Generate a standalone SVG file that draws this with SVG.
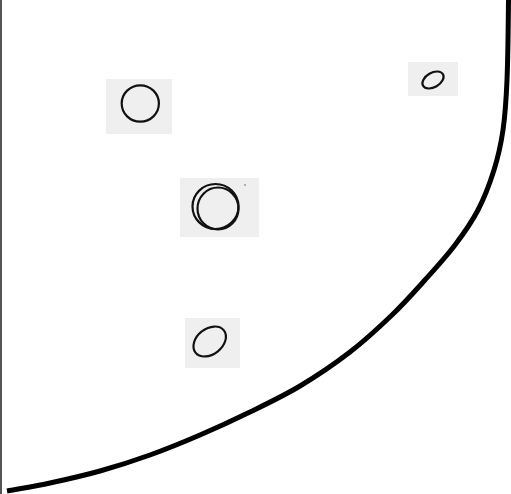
<svg xmlns="http://www.w3.org/2000/svg" width="511" height="494" viewBox="0 0 511 494">
<style>
.bg{fill:#efefef}
.ink{fill:none;stroke:#111;stroke-width:2.2}
</style>
<rect width="511" height="494" fill="#fff"/>
<g id="connectors">
<line x1="1" y1="0" x2="1" y2="494" stroke="#555" stroke-width="2"/>
<path d="M508.5,-4 L508.5,0 C508.25,26.67 507.92,58.33 507,80 C506.08,101.67 505.17,115 503,130 C500.83,145 498.17,156.67 494,170 C489.83,183.33 484.5,197.5 478,210 C471.5,222.5 463.83,233.33 455,245 C446.17,256.67 435.5,268.33 425,280 C414.5,291.67 404.5,303 392,315 C379.5,327 365.33,340.17 350,352 C334.67,363.83 316.67,376 300,386 C283.33,396 266.67,403.83 250,412 C233.33,420.17 216.67,427.83 200,435 C183.33,442.17 166.67,449 150,455 C133.33,461 116.67,466.33 100,471 C83.33,475.67 65.5,479.67 50,483 C34.5,486.33 21.33,488.33 7,491" fill="none" stroke="#000" stroke-width="5"/>
</g>
<g id="node1">
<rect class="bg" x="106" y="79" width="66" height="55"/>
<ellipse class="ink" cx="140.3" cy="103.5" rx="18.6" ry="18.2"/>
</g>
<g id="node2">
<rect class="bg" x="408" y="62" width="50" height="34"/>
<ellipse class="ink" cx="433" cy="80" rx="11.5" ry="7.2" transform="rotate(-30 433 80)" stroke-width="3"/>
</g>
<g id="node3">
<rect class="bg" x="180" y="178" width="79" height="59"/>
<ellipse class="ink" cx="215.5" cy="206.5" rx="23" ry="22.5"/>
<ellipse class="ink" cx="218" cy="208.5" rx="20.5" ry="21" stroke-width="1.8"/>
<circle cx="245" cy="185" r="1" fill="#999"/>
</g>
<g id="node4">
<rect class="bg" x="185" y="318" width="55" height="50"/>
<ellipse class="ink" cx="209.7" cy="341.5" rx="18" ry="12.8" transform="rotate(-38 209.7 341.5)" stroke-width="3.4"/>
</g>
</svg>
